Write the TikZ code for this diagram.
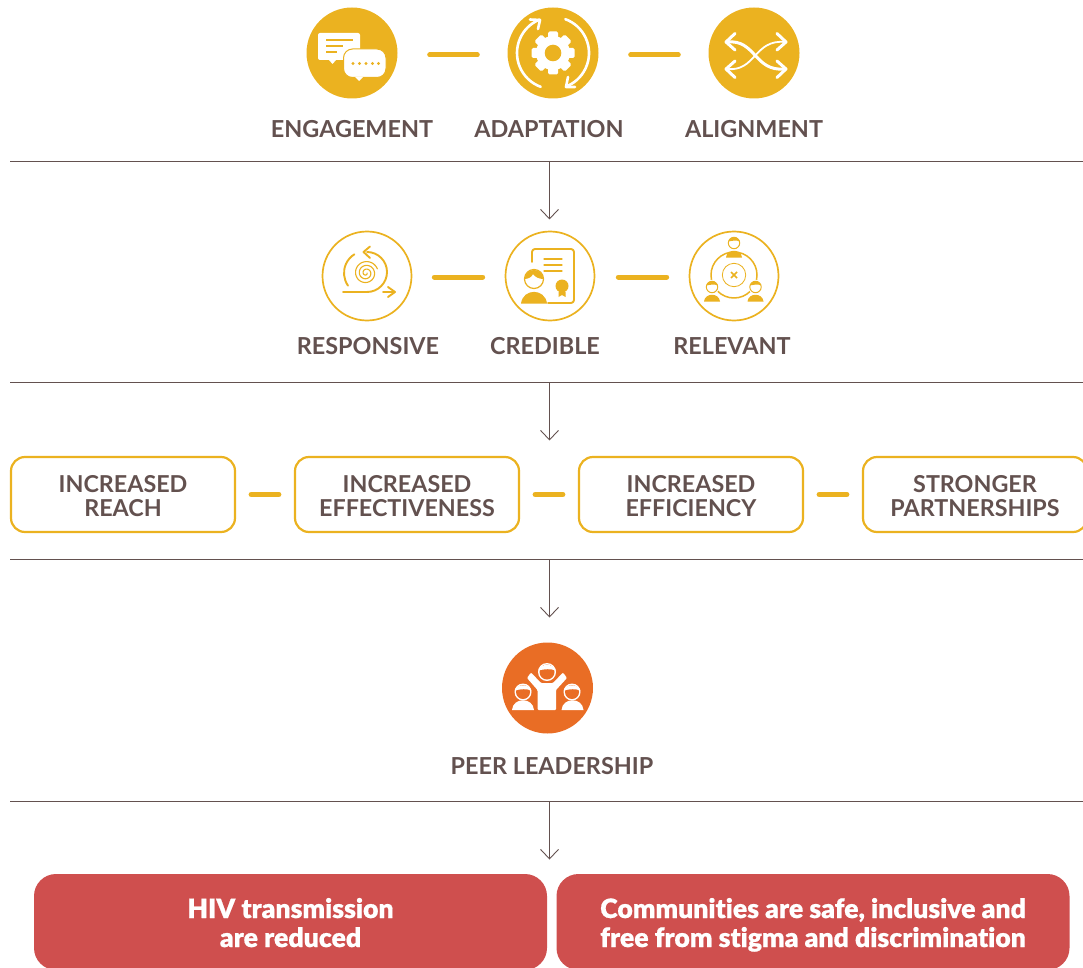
\documentclass[tikz,border=0pt]{standalone}
\usepackage{fontspec}
\setmainfont{Lato}
\newfontfamily\heavyfont[Ligatures=NoCommon,FakeBold=0.6]{Lato Black}
\usetikzlibrary{arrows.meta}
\definecolor{gold}{HTML}{EBB220}
\definecolor{brownish}{HTML}{63514F}
\definecolor{orangeish}{HTML}{E96D25}
\definecolor{redbox}{HTML}{CF4F4E}
\tikzset{
  disc/.style={circle,fill=gold,minimum size=91pt,inner sep=0pt},
  ring/.style={circle,draw=gold,line width=1.7pt,fill=white,minimum size=89pt,inner sep=0pt},
  lead/.style={circle,fill=orangeish,minimum size=91pt,inner sep=0pt},
  lbl/.style={text=brownish,font=\fontsize{23.4}{26}\selectfont\bfseries,inner sep=0pt},
  outcome/.style={draw=gold,line width=2.2pt,fill=white,rounded corners=14pt,minimum width=224pt,minimum height=75pt,
    align=center,text=brownish,font=\fontsize{23.3}{24}\selectfont\bfseries,inner sep=0pt,text height=44pt,text depth=0pt},
  result/.style={fill=redbox,rounded corners=22pt,minimum width=513pt,minimum height=96pt,align=center,text=white,
    font=\fontsize{26.6}{29}\selectfont\heavyfont,inner sep=0pt,text height=50pt,text depth=0pt},
  dashlink/.style={gold,line width=5pt,line cap=round},
  rule/.style={brownish,line width=.9pt},
  downarrow/.style={brownish,line width=.9pt,-{Straight Barb[length=9.5pt,width=18pt,line width=.9pt]}},
  ic/.style={white,line width=2.6pt,line cap=round,line join=round},
  icg/.style={gold,line width=1.9pt,line cap=round,line join=round}
}
\begin{document}
\begin{tikzpicture}[x=1pt,y=-1pt]
\useasboundingbox (0,0) rectangle (1083,968);
% top row
\node[disc] (eng) at (352,53) {};
\node[disc] (ada) at (553,53) {};
\node[disc] (ali) at (754,53) {};
\draw[dashlink,shorten <=32pt,shorten >=30pt] ([yshift=-2pt]eng.east) -- ([yshift=-2pt]ada.west);
\draw[dashlink,shorten <=32pt,shorten >=30pt] ([yshift=-2pt]ada.east) -- ([yshift=-2pt]ali.west);
\node[lbl] (englbl) at (352,129) {ENGAGEMENT};
\node[lbl] (adalbl) at (549,129) {ADAPTATION};
\node[lbl] (alilbl) at (754,129) {ALIGNMENT};
% speech bubbles
\fill[white,rounded corners=2pt] (318,33) rectangle (360,60);
\fill[white] (329,60) -- (336,60) -- (332.5,64) -- cycle;
\draw[gold,line width=1.5pt] (326,40) -- (353,40) (326,46) -- (343,46) (326,52) -- (337,52);
\fill[white,draw=gold,line width=1pt,rounded corners=9pt] (343.5,49) rectangle (386,77.5);
\fill[white] (355,77) -- (363,77) -- (359,81) -- cycle;
\foreach \dotx in {353,359.5,366,372.5,378.5}
  \fill[gold] (\dotx,63.5) circle[radius=1.7pt];
% gear and arrows
\fill[white] (553,53) circle[radius=17pt];
\foreach \ang in {0,45,...,315}
  \fill[white,rounded corners=1.5pt,rotate around={\ang:(553,53)}] (548,31.5) rectangle (558,42);
\fill[gold] (553,53) circle[radius=8.3pt];
\draw[ic] (553,53) ++(112:36pt) arc[start angle=112,end angle=250,radius=36pt];
\draw[ic] (553,53) ++(70:36pt) arc[start angle=70,end angle=-65,radius=36pt];
\draw[ic] (530,19.5) -- (540,20) -- (538,29);
\draw[ic] (575,87) -- (566,87) -- (568,77);
% crossing arrows
\draw[ic,line width=3pt] (727,42) .. controls (756,39) and (754,72) .. (785,69);
\draw[ic,line width=1.8pt] (727,69) .. controls (756,72) and (754,39) .. (785,42);
\draw[ic,line width=3pt] (735,33.5) -- (726,42) -- (735,50);
\draw[ic,line width=3pt] (735,61) -- (726,69) -- (735,77.5);
\draw[ic,line width=3pt] (777,33.5) -- (786,42) -- (777,50);
\draw[ic,line width=3pt] (777,61) -- (786,69) -- (777,77.5);
% first rule
\coordinate (r1l) at (10,161);
\coordinate (r1r) at (1083,161);
\coordinate (a1s) at (549.5,161);
\coordinate (a1e) at (549.5,219.5);
\draw[rule] (r1l) -- (r1r);
\draw[downarrow] (a1s) -- (a1e);
% second row
\node[ring] (res) at (367,276) {};
\node[ring] (cre) at (550,276) {};
\node[ring] (rel) at (734,276) {};
\draw[dashlink,shorten <=22pt,shorten >=22pt] ([yshift=-1pt]res.east) -- ([yshift=-1pt]cre.west);
\draw[dashlink,shorten <=23pt,shorten >=22pt] ([yshift=-1pt]cre.east) -- ([yshift=-1pt]rel.west);
\node[lbl] (reslbl) at (368,346) {RESPONSIVE};
\node[lbl] (crelbl) at (545,346) {CREDIBLE};
\node[lbl] (rellbl) at (732,346) {RELEVANT};
% spiral
\draw[icg] (366,273) ++(215:22pt) arc[start angle=215,end angle=122,radius=22pt];
\draw[icg] (367,252) arc[start angle=90,end angle=-90,radius=20pt] -- (343,292);
\draw[icg] (370,246.5) -- (363.5,252) -- (370,258);
\draw[icg] (388,287) -- (395,292) -- (388,297) (383,292) -- (395,292);
\draw[icg,line width=1.1pt,shift={(366,273)}] plot[domain=0:1060,samples=120] (\x:{1+\x*0.0105});
% certificate
\draw[icg,rounded corners=3pt] (532,262) -- (532,249) -- (574,249) -- (574,303) -- (548,303);
\draw[icg,line width=1.2pt] (544,259) -- (562,259) (544,265) -- (562,265) (544,271) -- (562,271);
\fill[gold] (562,286) circle[radius=6.5pt];
\fill[gold] (558.5,292) -- (565.5,292) -- (565.5,297) -- (562,295) -- (558.5,297) -- cycle;
\fill[gold] (521,303.5) .. controls (523,288) and (545,288) .. (547,303.5) -- cycle;
\draw[icg,line width=1.2pt,fill=white] (534,279) circle[radius=9.5pt];
\fill[gold] (524.5,279) .. controls (526,267) and (542,267) .. (543.5,279) .. controls (539,279) and (535,277) .. (533,274) .. controls (532,277) and (528,279) .. (524.5,279) -- cycle;
% circle of people
\draw[icg,line width=1.5pt] (734,275) circle[radius=23pt];
\draw[icg,line width=.8pt] (734,275) circle[radius=11.7pt];
\draw[gold,line width=1.6pt] (731,272) -- (737,278) (737,272) -- (731,278);
\foreach \px/\py in {734/243,712/287,755.5/287}{
  \fill[white] (\px,\py) circle[radius=7.2pt];
  \fill[gold] (\px-8,\py+14.5) .. controls (\px-7,\py+5.5) and (\px+7,\py+5.5) .. (\px+8,\py+14.5) -- cycle;
  \draw[icg,fill=white,line width=1pt] (\px,\py) circle[radius=5.7pt];
  \fill[gold] (\px-5.7,\py-1.5) .. controls (\px-4,\py-7) and (\px+4,\py-7) .. (\px+5.7,\py-1.5) .. controls (\px+2,\py-3.5) and (\px-2,\py-2) .. (\px-5.7,\py-1.5) -- cycle;
}
% second rule
\coordinate (r2l) at (10,382);
\coordinate (r2r) at (1083,382);
\coordinate (a2s) at (549.5,382);
\coordinate (a2e) at (549.5,440.5);
\draw[rule] (r2l) -- (r2r);
\draw[downarrow] (a2s) -- (a2e);
% boxes
\node[outcome] (reach) at (123,494.5) {INCREASED\\REACH};
\node[outcome] (effect) at (407,494.5) {INCREASED\\EFFECTIVENESS};
\node[outcome] (effic) at (691,494.5) {INCREASED\\EFFICIENCY};
\node[outcome] (partn) at (975,494.5) {STRONGER\\PARTNERSHIPS};
\draw[dashlink,shorten <=15pt,shorten >=15pt] (reach.east) -- (effect.west);
\draw[dashlink,shorten <=15pt,shorten >=15pt] (effect.east) -- (effic.west);
\draw[dashlink,shorten <=15pt,shorten >=15pt] (effic.east) -- (partn.west);
% third rule
\coordinate (r3l) at (10,559);
\coordinate (r3r) at (1083,559);
\coordinate (a3s) at (549.5,559);
\coordinate (a3e) at (549.5,617.5);
\draw[rule] (r3l) -- (r3r);
\draw[downarrow] (a3s) -- (a3e);
% peer leadership
\node[lead] (peer) at (547.5,688) {};
\node[lbl] (peerlbl) at (552,766) {PEER LEADERSHIP};
\fill[white,rounded corners=1pt] (537.5,710) -- (537.5,690) -- (527,678) -- (531,672.5) -- (541,683) -- (553,683) -- (563,672.5) -- (567,678) -- (556,690) -- (556,710) -- cycle;
\foreach \px/\py/\pr in {523/692/8.5,572/692/8.5,547/672/9}{
  \fill[orangeish] (\px,\py) circle[radius=\pr+2pt];
  \fill[white] (\px,\py) circle[radius=\pr pt];
  \fill[orangeish] (\px,\py) circle[radius=\pr-1.5pt];
  \fill[white] (\px-\pr,\py-1.5) .. controls (\px-\pr+3,\py-\pr) and (\px+\pr-3,\py-\pr) .. (\px+\pr,\py-1.5) .. controls (\px+3,\py-3.5) and (\px-2,\py-3) .. (\px-\pr,\py-1.5) -- cycle;
}
\fill[white] (512,710) .. controls (513,697) and (533,697) .. (534,710) -- cycle;
\fill[white] (561.5,710) .. controls (562.5,697) and (582.5,697) .. (583.5,710) -- cycle;
% fourth rule
\coordinate (r4l) at (10,801);
\coordinate (r4r) at (1083,801);
\coordinate (a4s) at (549.5,801);
\coordinate (a4e) at (549.5,859.5);
\draw[rule] (r4l) -- (r4r);
\draw[downarrow] (a4s) -- (a4e);
% results
\node[result] (hiv) at (290.5,922) {HIV transmission\\are reduced};
\node[result] (comm) at (813,922) {Communities are safe, inclusive and\\free from stigma and discrimination};
\end{tikzpicture}
\end{document}
